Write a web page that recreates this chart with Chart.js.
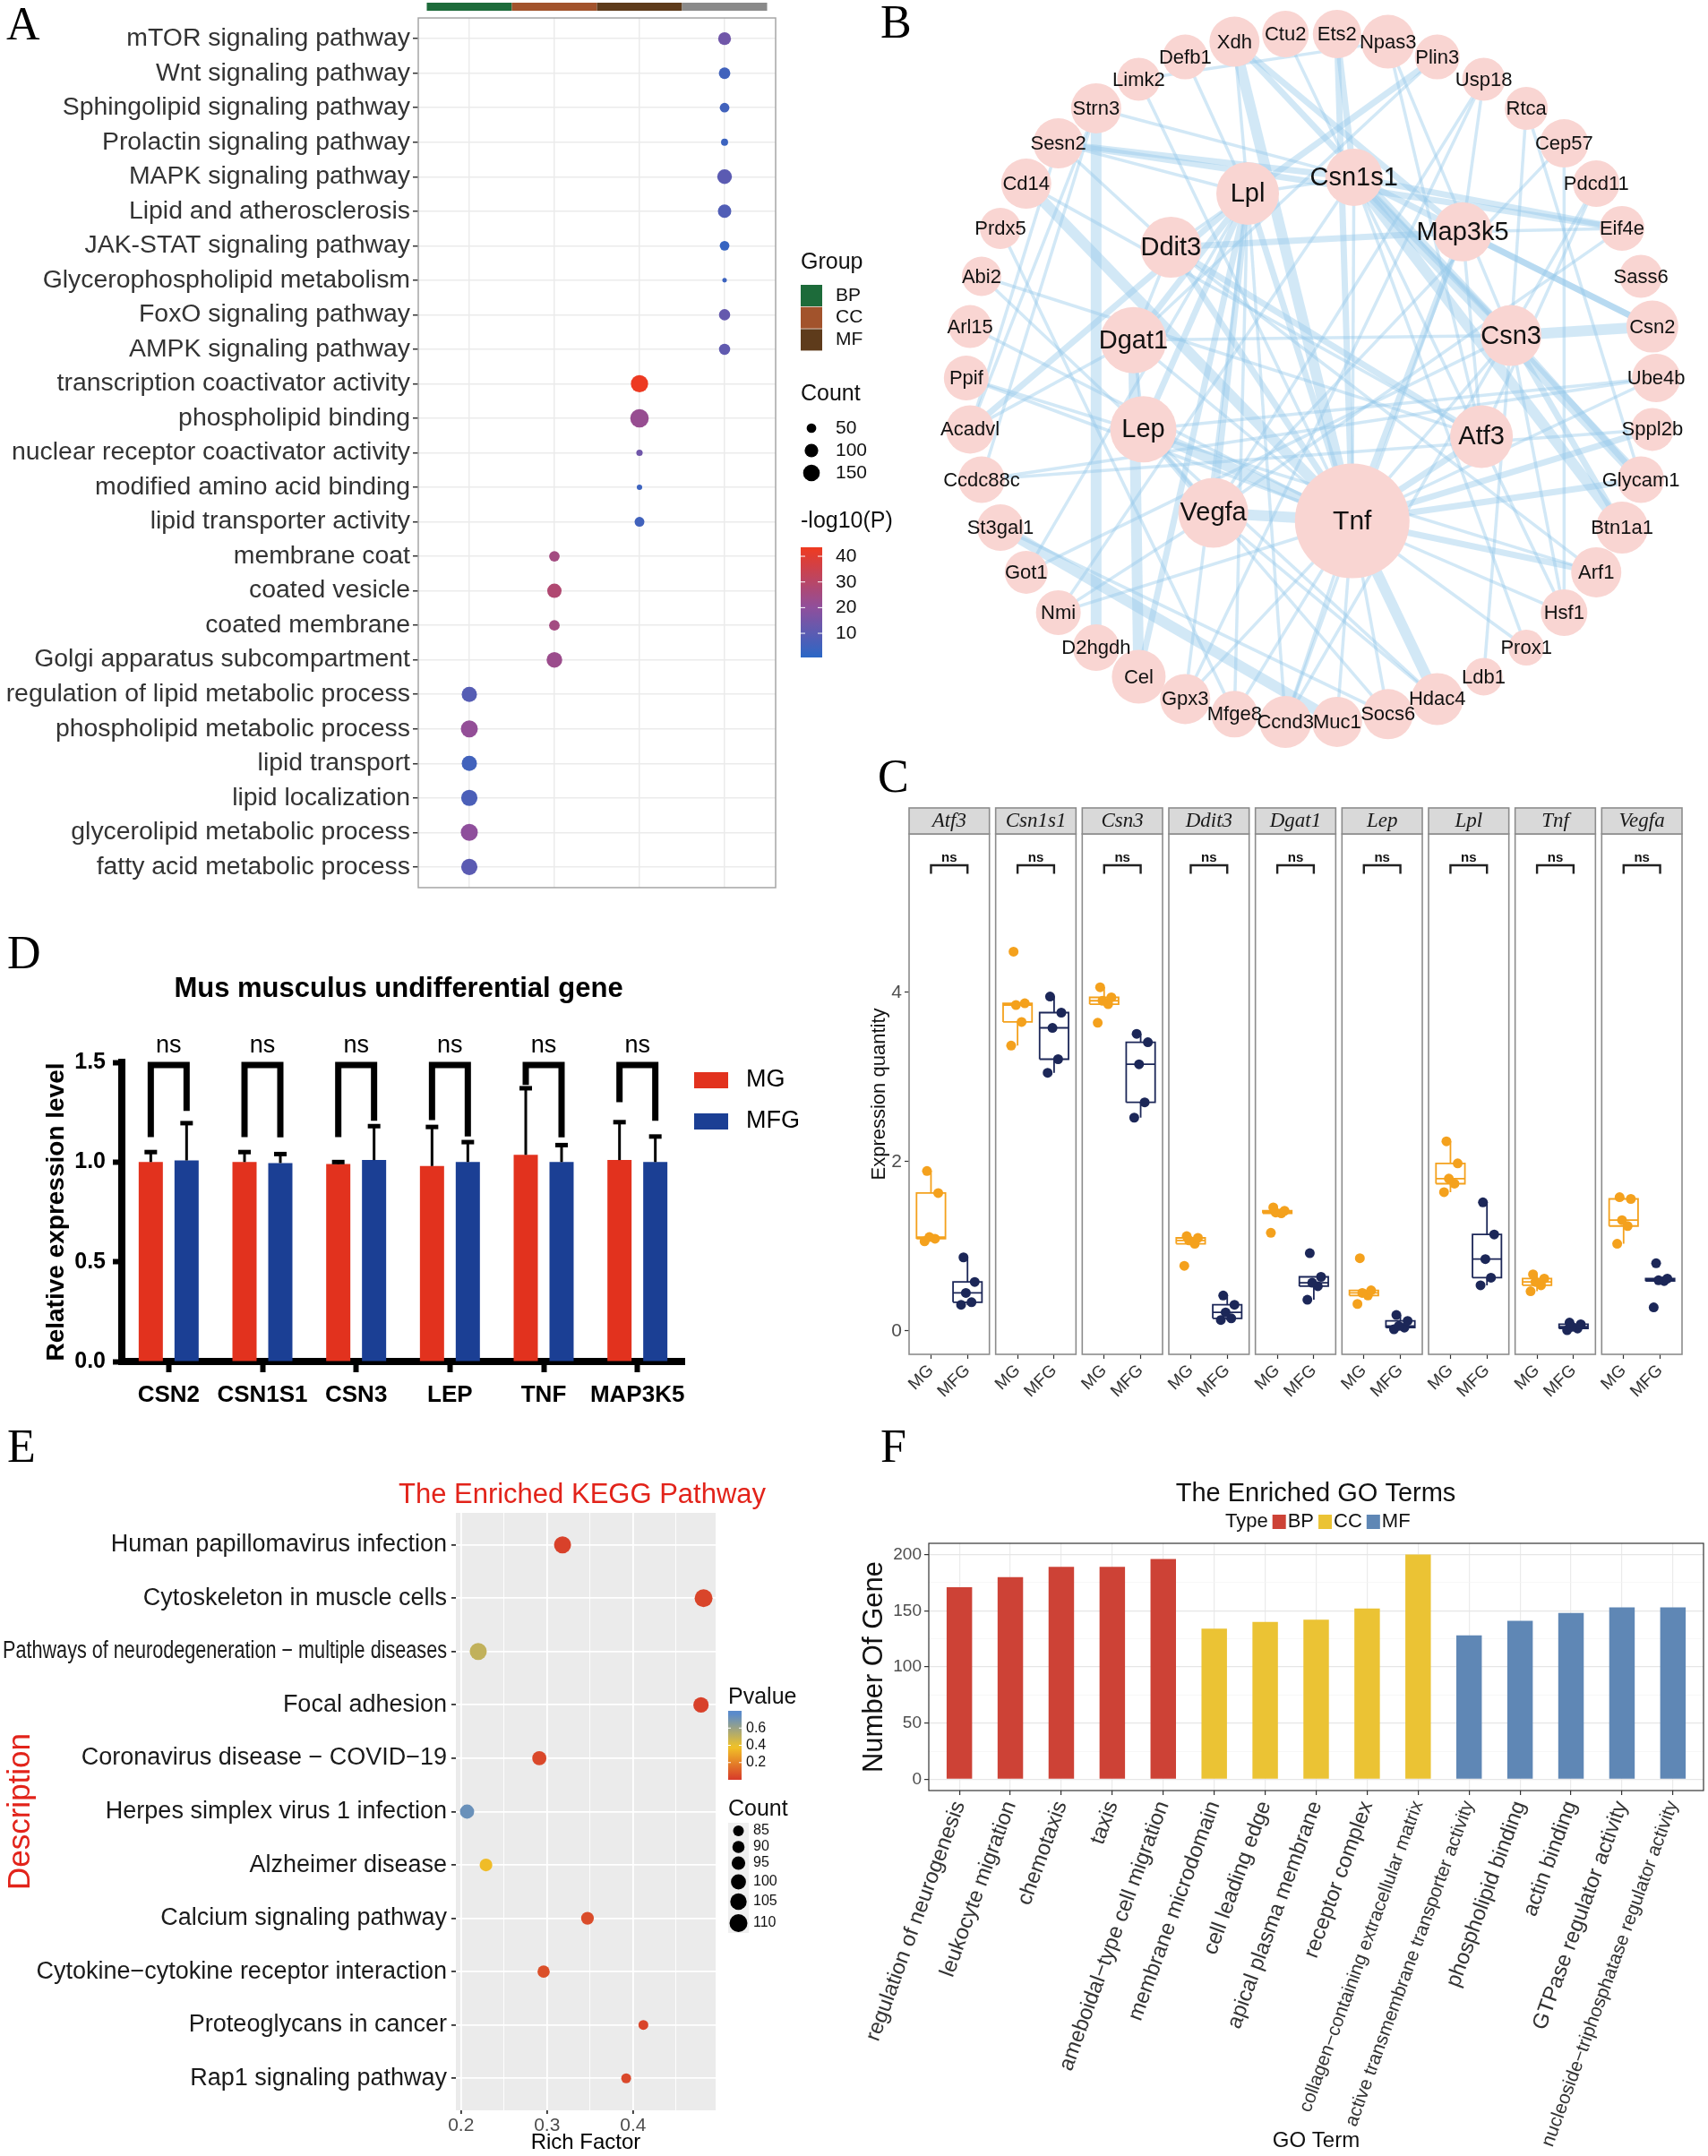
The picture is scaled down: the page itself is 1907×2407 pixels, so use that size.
<!DOCTYPE html>
<html>
<head>
<meta charset="utf-8">
<title>Figure</title>
<script src="https://cdn.jsdelivr.net/npm/chart.js@4.4.1/dist/chart.umd.min.js"></script>
<style>
  html, body { margin: 0; padding: 0; background: #fff; }
  body { position: relative; width: 1907px; height: 2407px; overflow: hidden; }
  canvas { position: absolute; }
  .tag { position: absolute; font: 52px/1 "Liberation Serif", "Times New Roman", serif; color: #000; }
</style>
</head>
<body>
<div class="tag" style="left:7px;top:1px">A</div>
<div class="tag" style="left:983px;top:-1px">B</div>
<div class="tag" style="left:980px;top:841px">C</div>
<div class="tag" style="left:8px;top:1038px">D</div>
<div class="tag" style="left:8px;top:1589px">E</div>
<div class="tag" style="left:983px;top:1589px">F</div>

<canvas id="chartA" width="1000" height="1011" style="left:0;top:0"></canvas>
<canvas id="chartB" width="862" height="854" style="left:1033px;top:0"></canvas>
<canvas id="chartC" width="957" height="700" style="left:950px;top:880px"></canvas>
<canvas id="chartD" width="930" height="540" style="left:0;top:1040px"></canvas>
<canvas id="chartE" width="930" height="817" style="left:0;top:1590px"></canvas>
<canvas id="chartF" width="957" height="817" style="left:950px;top:1590px"></canvas>

<script>
// ---------- data ----------

// A: enrichment of GO / KEGG terms (top to bottom)
const aTerms = ['mTOR signaling pathway', 'Wnt signaling pathway', 'Sphingolipid signaling pathway',
  'Prolactin signaling pathway', 'MAPK signaling pathway', 'Lipid and atherosclerosis',
  'JAK-STAT signaling pathway', 'Glycerophospholipid metabolism', 'FoxO signaling pathway',
  'AMPK signaling pathway', 'transcription coactivator activity', 'phospholipid binding',
  'nuclear receptor coactivator activity', 'modified amino acid binding', 'lipid transporter activity',
  'membrane coat', 'coated vesicle', 'coated membrane', 'Golgi apparatus subcompartment',
  'regulation of lipid metabolic process', 'phospholipid metabolic process', 'lipid transport',
  'lipid localization', 'glycerolipid metabolic process', 'fatty acid metabolic process'];
const aGroup = [4, 4, 4, 4, 4, 4, 4, 4, 4, 4, 3, 3, 3, 3, 3, 2, 2, 2, 2, 1, 1, 1, 1, 1, 1];
const aCount = [88, 72, 50, 27, 116, 97, 50, 11, 68, 68, 161, 185, 22, 16, 52, 60, 111, 60, 133, 125, 156, 125, 143, 156, 143];
const aLogP = [14, 5, 5, 4, 10, 8, 3, 4, 12, 11, 43, 22, 14, 4, 5, 25, 28, 25, 23, 9, 21, 5, 7, 20, 10];
const aGroupNames = ['BP', 'CC', 'MF'];
const aCountBreaks = [50, 100, 150];
const aLogPBreaks = [10, 20, 30, 40];

// B: interaction network
const bHubs = ['Lpl', 'Csn1s1', 'Map3k5', 'Csn3', 'Atf3', 'Tnf', 'Vegfa', 'Lep', 'Dgat1', 'Ddit3'];
const bHubAngle = [251, 282, 316, 348, 19, 74, 126, 163, 192, 223];
const bHubDist = [0.566, 0.595, 0.61, 0.592, 0.522, 0.431, 0.483, 0.509, 0.527, 0.556];
const bHubDegree = [8.5, 7, 7.5, 8, 8.5, 23, 10.5, 9.5, 9.5, 8];
const bRing = ['Ets2', 'Npas3', 'Plin3', 'Usp18', 'Rtca', 'Cep57', 'Pdcd11', 'Eif4e', 'Sass6', 'Csn2',
  'Ube4b', 'Sppl2b', 'Glycam1', 'Btn1a1', 'Arf1', 'Hsf1', 'Prox1', 'Ldb1', 'Hdac4', 'Socs6', 'Muc1',
  'Ccnd3', 'Mfge8', 'Gpx3', 'Cel', 'D2hgdh', 'Nmi', 'Got1', 'St3gal1', 'Ccdc88c', 'Acadvl', 'Ppif',
  'Arl15', 'Abi2', 'Prdx5', 'Cd14', 'Sesn2', 'Strn3', 'Limk2', 'Defb1', 'Xdh', 'Ctu2'];
const bRingDegree = [4.5, 6, 3.5, 3, 3, 4.5, 4, 3.5, 3, 5.5, 4.5, 3, 4, 5.5, 5, 4, 1, 1.5, 5.5, 5, 5,
  5.5, 4, 5, 6, 4, 3.5, 3, 4, 4, 4.5, 3.5, 3, 2, 2.5, 5, 5, 5, 3, 3.5, 5, 4];
const bEdges = [
  ['Tnf','Xdh',3],['Tnf','Cd14',3],['Tnf','Ppif',1],['Tnf','Arl15',1],['Tnf','Lep',3],['Tnf','Vegfa',3],
  ['Tnf','Lpl',2],['Tnf','Ddit3',2],['Tnf','Dgat1',1],['Tnf','Atf3',2],['Tnf','Map3k5',2],['Tnf','Csn3',1],
  ['Tnf','Ube4b',1],['Tnf','Sppl2b',2],['Tnf','Glycam1',2],['Tnf','Arf1',2],['Tnf','Hsf1',1],['Tnf','Hdac4',3],
  ['Tnf','Socs6',1],['Tnf','Muc1',1],['Tnf','Ccnd3',1],['Tnf','Mfge8',1],['Tnf','Gpx3',1],['Tnf','Nmi',1],
  ['Tnf','Prox1',1],['Tnf','Limk2',1],['Tnf','Csn1s1',1],['Tnf','Ets2',2],
  ['Lpl','Plin3',2],['Lpl','Dgat1',2],['Lpl','Lep',2],['Lpl','Vegfa',2],['Lpl','Cel',2],['Lpl','Ddit3',1],
  ['Lpl','Acadvl',2],['Lpl','Sesn2',1],['Lpl','Defb1',1],['Lpl','Gpx3',1],['Lpl','Ccnd3',1],['Lpl','Got1',1],
  ['Lpl','Csn1s1',1],['Lpl','Xdh',1],['Lpl','Mfge8',1],
  ['Csn1s1','Btn1a1',3],['Csn1s1','Glycam1',3],['Csn1s1','Csn2',2],['Csn1s1','Csn3',2],['Csn1s1','Ets2',2],
  ['Csn1s1','Ctu2',1],['Csn1s1','Sesn2',2],['Csn1s1','Eif4e',2],['Csn1s1','Hsf1',1],['Csn1s1','Prox1',1],
  ['Csn1s1','Nmi',1],['Csn1s1','Strn3',1],
  ['Csn3','Csn2',3],['Csn3','Dgat1',1],['Csn3','Btn1a1',2],['Csn3','Glycam1',2],['Csn3','Xdh',2],
  ['Csn3','Npas3',1],['Csn3','Hsf1',1],['Csn3','Ldb1',1],['Csn3','Rtca',1],['Csn3','Got1',1],
  ['Map3k5','Csn2',2],['Map3k5','Ddit3',2],['Map3k5','Xdh',2],['Map3k5','Eif4e',1],['Map3k5','Atf3',1],
  ['Map3k5','Ccnd3',1],['Map3k5','Usp18',1],
  ['Ddit3','Atf3',2],['Ddit3','Arf1',1],['Ddit3','Sesn2',1],['Ddit3','Dgat1',1],
  ['Dgat1','Plin3',1],['Dgat1','Cel',3],['Dgat1','Acadvl',1],['Dgat1','Lep',1],
  ['Lep','Vegfa',2],['Lep','Hdac4',1],['Lep','Socs6',1],['Lep','Ube4b',1],['Lep','Abi2',1],
  ['Vegfa','Hdac4',1],['Vegfa','Usp18',1],['Vegfa','Cep57',1],['Vegfa','Eif4e',1],['Vegfa','Nmi',1],
  ['Atf3','Cd14',1],['Atf3','Pdcd11',1],['Atf3','Abi2',1],['Atf3','Npas3',1],
  ['Strn3','D2hgdh',3],['St3gal1','Muc1',3],['St3gal1','Socs6',1],['Ccdc88c','Sppl2b',1],['Acadvl','Sesn2',1],
  ['Acadvl','Strn3',1],['Ccdc88c','Strn3',1],['Prdx5','Mfge8',1],['Usp18','Gpx3',1],['Rtca','Glycam1',1],
  ['Cep57','Hsf1',1],['Pdcd11','Ccnd3',1],['Limk2','Npas3',1],['Ppif','Arf1',1],['Ccdc88c','Ube4b',1],
  ['Sesn2','Eif4e',2]
];

// C: expression per sample, MG vs MFG
const cGenes = ['Atf3', 'Csn1s1', 'Csn3', 'Ddit3', 'Dgat1', 'Lep', 'Lpl', 'Tnf', 'Vegfa'];
const cMG = [[1.06, 1.09, 1.11, 1.63, 1.89], [3.37, 3.65, 3.85, 3.87, 4.48], [3.64, 3.86, 3.90, 3.94, 4.06],
  [0.77, 1.03, 1.07, 1.10, 1.12], [1.16, 1.39, 1.40, 1.42, 1.46], [0.32, 0.42, 0.45, 0.48, 0.86],
  [1.64, 1.74, 1.80, 1.98, 2.24], [0.47, 0.54, 0.58, 0.62, 0.67], [1.03, 1.24, 1.31, 1.56, 1.58]];
const cMFG = [[0.31, 0.34, 0.45, 0.58, 0.87], [3.05, 3.21, 3.58, 3.76, 3.95], [2.52, 2.70, 3.15, 3.41, 3.51],
  [0.13, 0.15, 0.22, 0.31, 0.42], [0.37, 0.53, 0.57, 0.64, 0.92], [0.02, 0.04, 0.06, 0.12, 0.19],
  [0.54, 0.63, 0.85, 1.14, 1.52], [0.01, 0.03, 0.05, 0.08, 0.10], [0.28, 0.59, 0.60, 0.62, 0.80]];
const cSig = ['ns', 'ns', 'ns', 'ns', 'ns', 'ns', 'ns', 'ns', 'ns'];
const cSigY = 5.5;
const cTicks = [0, 2, 4];

// D: qPCR relative expression
const dGenes = ['CSN2', 'CSN1S1', 'CSN3', 'LEP', 'TNF', 'MAP3K5'];
const dMG = [1.0, 1.0, 0.99, 0.98, 1.036, 1.01];
const dMGsd = [0.05, 0.05, 0.01, 0.196, 0.334, 0.19];
const dMFG = [1.008, 0.995, 1.01, 1.0, 1.0, 1.0];
const dMFGsd = [0.187, 0.045, 0.17, 0.10, 0.085, 0.128];
const dSig = ['ns', 'ns', 'ns', 'ns', 'ns', 'ns'];
const dBracketTop = 1.487;
const dLegLeft = [1.125, 1.125, 1.125, 1.21, 1.387, 1.30];
const dLegRight = [1.256, 1.124, 1.207, 1.128, 1.124, 1.207];
const dTicks = [0, 0.5, 1.0, 1.5];

// E: KEGG pathway enrichment
const eTerms = ['Human papillomavirus infection', 'Cytoskeleton in muscle cells',
  'Pathways of neurodegeneration \u2212 multiple diseases', 'Focal adhesion',
  'Coronavirus disease \u2212 COVID\u221219', 'Herpes simplex virus 1 infection', 'Alzheimer disease',
  'Calcium signaling pathway', 'Cytokine\u2212cytokine receptor interaction', 'Proteoglycans in cancer',
  'Rap1 signaling pathway'];
const eRich = [0.318, 0.482, 0.220, 0.479, 0.291, 0.207, 0.229, 0.347, 0.296, 0.412, 0.392];
const eCount = [107, 110, 107, 101, 97, 97, 92, 92, 90, 82, 82];
const ePval = [0.02, 0.03, 0.50, 0.02, 0.04, 0.72, 0.36, 0.05, 0.06, 0.03, 0.04];
const eTicks = [0.2, 0.25, 0.3, 0.35, 0.4, 0.45];
const ePBreaks = [0.2, 0.4, 0.6];
const eCountBreaks = [85, 90, 95, 100, 105, 110];

// F: GO term gene counts
const fTerms = ['regulation of neurogenesis', 'leukocyte migration', 'chemotaxis', 'taxis',
  'ameboidal\u2212type cell migration', 'membrane microdomain', 'cell leading edge', 'apical plasma membrane',
  'receptor complex', 'collagen\u2212containing extracellular matrix', 'active transmembrane transporter activity',
  'phospholipid binding', 'actin binding', 'GTPase regulator activity', 'nucleoside\u2212triphosphatase regulator activity'];
const fType = ['BP', 'BP', 'BP', 'BP', 'BP', 'CC', 'CC', 'CC', 'CC', 'CC', 'MF', 'MF', 'MF', 'MF', 'MF'];
const fGenes = [171, 180, 189, 189, 196, 134, 140, 142, 152, 200, 128, 141, 148, 153, 153];
const fTypes = ['BP', 'CC', 'MF'];
const fTicks = [0, 25, 50, 75, 100, 125, 150, 175, 200];

// ---------- shared ----------
const SANS = '"Liberation Sans", Arial, Helvetica, sans-serif';
const SERIF = '"Liberation Serif", "Times New Roman", serif';
Chart.defaults.font.family = SANS;
Chart.defaults.color = '#333';

const base = {
  responsive: false,
  animation: false,
  events: [],
  plugins: { legend: { display: false }, tooltip: { enabled: false } }
};

const ticksAt = vals => scale => { scale.ticks = vals.map(v => ({ value: v })); };

function hexToRgb(h) {
  const n = parseInt(h.slice(1), 16);
  return [(n >> 16) & 255, (n >> 8) & 255, n & 255];
}
function ramp(stops, v) {
  if (v <= stops[0][0]) return stops[0][1];
  for (let i = 1; i < stops.length; i++) {
    if (v <= stops[i][0]) {
      const t = (v - stops[i - 1][0]) / (stops[i][0] - stops[i - 1][0]);
      const a = hexToRgb(stops[i - 1][1]), b = hexToRgb(stops[i][1]);
      return 'rgb(' + a.map((c, k) => Math.round(c + (b[k] - c) * t)).join(',') + ')';
    }
  }
  return stops[stops.length - 1][1];
}
function gradientBar(ctx, stops, lo, hi, x, top, w, bot) {
  const g = ctx.createLinearGradient(0, bot, 0, top);
  for (let i = 0; i <= 24; i++) g.addColorStop(i / 24, ramp(stops, lo + (hi - lo) * i / 24));
  ctx.fillStyle = g;
  ctx.fillRect(x, top, w, bot - top);
}

// ---------- A ----------
const aStripColors = ['#1D6B3A', '#A2532C', '#5E3B1B', '#8A8A8A'];
const aRamp = [[0.6, '#2A67C6'], [20, '#8F4F9C'], [43.5, '#EF3A1F']];
const aSize = c => 0.76 * Math.sqrt(c);

new Chart(document.getElementById('chartA'), {
  type: 'scatter',
  data: { datasets: [{
    data: aTerms.map((t, i) => ({ x: aGroup[i], y: i + 1 })),
    pointRadius: aCount.map(aSize),
    pointHoverRadius: aCount.map(aSize),
    pointBackgroundColor: aLogP.map(v => ramp(aRamp, v)),
    pointBorderWidth: 0,
    clip: false
  }] },
  options: {
    ...base,
    layout: { autoPadding: false, padding: { left: 0, top: 15, right: 134, bottom: 0 } },
    scales: {
      x: {
        type: 'linear', min: 0.4, max: 4.6, afterBuildTicks: ticksAt([1, 2, 3, 4]),
        ticks: { display: false },
        grid: { color: '#EBEBEB', lineWidth: 1.5, drawTicks: false },
        border: { display: false },
        afterFit: s => { s.height = 0; }
      },
      y: {
        type: 'linear', reverse: true, min: 0.4, max: 25.6,
        afterBuildTicks: ticksAt(aTerms.map((t, i) => i + 1)),
        ticks: { autoSkip: false, padding: 3, color: '#333', font: { size: 28.4 }, callback: v => aTerms[v - 1] },
        grid: { color: '#EBEBEB', lineWidth: 1.5, tickLength: 6, tickColor: '#333', tickWidth: 1.5 },
        border: { display: false },
        afterFit: s => { s.width = 467; }
      }
    }
  },
  plugins: [{
    id: 'aDecor',
    afterDraw(chart) {
      const { ctx, chartArea: ca, scales: { x } } = chart;
      ctx.save();
      ctx.strokeStyle = '#A6A6A6';
      ctx.lineWidth = 1.5;
      ctx.strokeRect(ca.left, ca.top, ca.right - ca.left, ca.bottom - ca.top);
      aStripColors.forEach((c, k) => {
        const x0 = x.getPixelForValue(k + 0.5), x1 = x.getPixelForValue(k + 1.5);
        ctx.fillStyle = c;
        ctx.fillRect(x0, 3, x1 - x0, 9);
      });
      // legends
      const lx = 894, tx = 933;
      ctx.textAlign = 'left';
      ctx.textBaseline = 'middle';
      ctx.fillStyle = '#111';
      ctx.font = '25px ' + SANS;
      ctx.fillText('Group', lx, 293);
      aGroupNames.forEach((g, k) => {
        ctx.fillStyle = aStripColors[k];
        ctx.fillRect(lx, 318 + k * 24.7, 24, 24);
        ctx.fillStyle = '#111';
        ctx.font = '21px ' + SANS;
        ctx.fillText(g, tx, 330 + k * 24.7);
      });
      ctx.font = '25px ' + SANS;
      ctx.fillText('Count', lx, 440);
      aCountBreaks.forEach((c, k) => {
        ctx.fillStyle = '#000';
        ctx.beginPath();
        ctx.arc(906, 478 + k * 25, aSize(c), 0, Math.PI * 2);
        ctx.fill();
        ctx.fillStyle = '#111';
        ctx.font = '21px ' + SANS;
        ctx.fillText(String(c), tx, 478 + k * 25);
      });
      ctx.font = '25px ' + SANS;
      ctx.fillText('-log10(P)', lx, 582);
      const top = 611, bot = 734, lo = 0.6, hi = 43.5;
      gradientBar(ctx, aRamp, lo, hi, lx, top, 24, bot);
      ctx.strokeStyle = '#fff';
      ctx.lineWidth = 1;
      aLogPBreaks.forEach(v => {
        const yy = bot - (v - lo) / (hi - lo) * (bot - top);
        ctx.beginPath();
        ctx.moveTo(lx, yy); ctx.lineTo(lx + 5, yy);
        ctx.moveTo(lx + 19, yy); ctx.lineTo(lx + 24, yy);
        ctx.stroke();
        ctx.fillStyle = '#111';
        ctx.font = '21px ' + SANS;
        ctx.fillText(String(v), tx, yy);
      });
      ctx.restore();
    }
  }]
});

// ---------- B ----------
const bNames = bHubs.concat(bRing);
const bDegree = bHubDegree.concat(bRingDegree);
const bXY = bNames.map((n, i) => {
  const hub = i < bHubs.length;
  const deg = hub ? bHubAngle[i] : -90 + (i - bHubs.length + 0.5) * 360 / bRing.length;
  const r = hub ? bHubDist[i] : 1;
  const a = deg * Math.PI / 180;
  return { x: r * Math.cos(a), y: -r * Math.sin(a) };
});
const bIndex = Object.fromEntries(bNames.map((n, i) => [n, i]));
const bEdgeWidth = [0, 3.5, 7, 12];

new Chart(document.getElementById('chartB'), {
  type: 'scatter',
  data: { datasets: [
    {
      data: bXY.map(p => ({ ...p })),
      pointRadius: bDegree.map(d => 18 + 2 * d),
      pointHoverRadius: bDegree.map(d => 18 + 2 * d),
      pointBackgroundColor: '#F9D5D2',
      pointBorderWidth: 0,
      order: 0,
      clip: false
    },
    ...bEdges.map(([a, b, w]) => ({
      data: [{ ...bXY[bIndex[a]] }, { ...bXY[bIndex[b]] }],
      showLine: true,
      pointRadius: 0,
      borderColor: 'rgba(148,200,234,0.42)',
      borderWidth: bEdgeWidth[w],
      order: 1,
      clip: false
    }))
  ] },
  options: {
    ...base,
    layout: { autoPadding: false, padding: 0 },
    scales: {
      x: { type: 'linear', min: -1.119, max: 1.119, display: false },
      y: { type: 'linear', min: -1.122, max: 1.096, display: false }
    }
  },
  plugins: [{
    id: 'bLabels',
    afterDatasetsDraw(chart) {
      const { ctx, scales: { x, y } } = chart;
      ctx.save();
      ctx.textAlign = 'center';
      ctx.textBaseline = 'middle';
      ctx.fillStyle = '#111';
      bNames.forEach((n, i) => {
        const size = n === 'Tnf' ? 30 : (i < bHubs.length ? 29 : 22);
        ctx.font = size + 'px ' + SANS;
        ctx.fillText(n, x.getPixelForValue(bXY[i].x), y.getPixelForValue(bXY[i].y) + 1);
      });
      ctx.restore();
    }
  }]
});

// ---------- C ----------
const cStep = 1 + 7 / 90;
const cX = (g, j) => g * cStep + (0.6 + j) / 2.2;
const cJitter = [-0.08, 0.05, -0.02, 0.09, -0.05];
const cHalf = 0.18;
const cOrange = '#F4A11D', cNavy = '#1C2758';
const GAP = { x: NaN, y: NaN };

function quant(s, p) {
  const h = (s.length - 1) * p, lo = Math.floor(h), hi = Math.min(lo + 1, s.length - 1);
  return s[lo] + (s[hi] - s[lo]) * (h - lo);
}
function boxPath(vals, cx) {
  const s = [...vals].sort((a, b) => a - b);
  const q1 = quant(s, 0.25), med = quant(s, 0.5), q3 = quant(s, 0.75), iqr = q3 - q1;
  const hi = Math.max(...s.filter(v => v <= q3 + 1.5 * iqr));
  const lo = Math.min(...s.filter(v => v >= q1 - 1.5 * iqr));
  const L = cx - cHalf, R = cx + cHalf;
  return [{ x: L, y: q1 }, { x: R, y: q1 }, { x: R, y: q3 }, { x: L, y: q3 }, { x: L, y: q1 }, { ...GAP },
    { x: L, y: med }, { x: R, y: med }, { ...GAP },
    { x: cx, y: q3 }, { x: cx, y: Math.max(hi, q3) }, { ...GAP },
    { x: cx, y: q1 }, { x: cx, y: Math.min(lo, q1) }, { ...GAP }];
}
const cPoints = (groups, j) => groups.flatMap((pts, g) => pts.map((v, k) => ({ x: cX(g, j) + cJitter[k], y: v })));

new Chart(document.getElementById('chartC'), {
  type: 'scatter',
  data: { datasets: [
    { data: cPoints(cMG, 0), pointRadius: 5.5, pointHoverRadius: 5.5, pointBackgroundColor: cOrange, pointBorderWidth: 0, order: 0 },
    { data: cPoints(cMFG, 1), pointRadius: 5.5, pointHoverRadius: 5.5, pointBackgroundColor: cNavy, pointBorderWidth: 0, order: 1 },
    { data: cMG.flatMap((pts, g) => boxPath(pts, cX(g, 0))), showLine: true, pointRadius: 0, borderColor: cOrange, borderWidth: 1.8, order: 2 },
    { data: cMFG.flatMap((pts, g) => boxPath(pts, cX(g, 1))), showLine: true, pointRadius: 0, borderColor: cNavy, borderWidth: 1.8, order: 3 },
    {
      data: cGenes.flatMap((g, i) => [{ x: cX(i, 0), y: cSigY - 0.1 }, { x: cX(i, 0), y: cSigY },
        { x: cX(i, 1), y: cSigY }, { x: cX(i, 1), y: cSigY - 0.1 }, { ...GAP }]),
      showLine: true, pointRadius: 0, borderColor: '#222', borderWidth: 2.4, order: 4
    }
  ] },
  options: {
    ...base,
    layout: { autoPadding: false, padding: { left: 0, top: 51, right: 29, bottom: 0 } },
    scales: {
      x: {
        type: 'linear', min: 0, max: 8 * cStep + 1,
        afterBuildTicks: ticksAt(cGenes.flatMap((g, i) => [cX(i, 0), cX(i, 1)])),
        ticks: { autoSkip: false, minRotation: 45, maxRotation: 45, padding: 2, color: '#333', font: { size: 19 },
          callback: (v, i) => (i % 2 ? 'MFG' : 'MG') },
        grid: { drawOnChartArea: false, tickLength: 5, tickColor: '#333', tickWidth: 1.2 },
        border: { display: false },
        afterFit: s => { s.height = 68; }
      },
      y: {
        type: 'linear', min: -0.275, max: 5.87, afterBuildTicks: ticksAt(cTicks),
        ticks: { color: '#4D4D4D', font: { size: 21 }, padding: 3 },
        grid: { drawOnChartArea: false, tickLength: 5, tickColor: '#333', tickWidth: 1.2 },
        border: { display: false },
        title: { display: true, text: 'Expression quantity', color: '#111', font: { size: 22 }, padding: { top: 19, bottom: 0 } },
        afterFit: s => { s.width = 65; }
      }
    }
  },
  plugins: [{
    id: 'cFacets',
    beforeDatasetsDraw(chart) {
      const { ctx, chartArea: ca, scales: { x } } = chart;
      ctx.save();
      cGenes.forEach((g, i) => {
        const x0 = x.getPixelForValue(i * cStep), x1 = x.getPixelForValue(i * cStep + 1);
        ctx.strokeStyle = '#8C8C8C';
        ctx.lineWidth = 1.6;
        ctx.strokeRect(x0, ca.top, x1 - x0, ca.bottom - ca.top);
        ctx.fillStyle = '#D9D9D9';
        ctx.fillRect(x0, ca.top - 29, x1 - x0, 29);
        ctx.strokeRect(x0, ca.top - 29, x1 - x0, 29);
        ctx.fillStyle = '#1A1A1A';
        ctx.font = 'italic 23px ' + SERIF;
        ctx.textAlign = 'center';
        ctx.textBaseline = 'middle';
        ctx.fillText(g, (x0 + x1) / 2, ca.top - 14);
      });
      ctx.restore();
    },
    afterDatasetsDraw(chart) {
      const { ctx, scales: { x, y } } = chart;
      ctx.save();
      ctx.fillStyle = '#111';
      ctx.font = 'bold 15px ' + SANS;
      ctx.textAlign = 'center';
      ctx.textBaseline = 'alphabetic';
      cSig.forEach((s, i) => {
        const cx = (x.getPixelForValue(cX(i, 0)) + x.getPixelForValue(cX(i, 1))) / 2;
        ctx.fillText(s, cx, y.getPixelForValue(cSigY) - 4);
      });
      ctx.restore();
    }
  }]
});

// ---------- D ----------
const dRed = '#E2321E', dBlue = '#1B3F94';

new Chart(document.getElementById('chartD'), {
  type: 'bar',
  data: {
    labels: dGenes,
    datasets: [
      { label: 'MG', data: dMG, backgroundColor: dRed, borderWidth: 0, categoryPercentage: 0.764, barPercentage: 0.675 },
      { label: 'MFG', data: dMFG, backgroundColor: dBlue, borderWidth: 0, categoryPercentage: 0.764, barPercentage: 0.675 }
    ]
  },
  options: {
    ...base,
    layout: { autoPadding: false, padding: { left: 0, top: 146, right: 166, bottom: 0 } },
    scales: {
      x: {
        grid: { drawOnChartArea: false, offset: false, tickLength: 12, tickWidth: 6, tickColor: '#000' },
        border: { display: true, color: '#000', width: 8 },
        ticks: { autoSkip: false, minRotation: 0, maxRotation: 0, color: '#000', padding: 10, font: { size: 26, weight: 'bold' } },
        afterFit: s => { s.height = 60; }
      },
      y: {
        min: 0, max: 1.5, afterBuildTicks: ticksAt(dTicks),
        ticks: { color: '#000', padding: 8, font: { size: 25, weight: 'bold' }, callback: v => v.toFixed(1) },
        grid: { drawOnChartArea: false, tickLength: 10, tickWidth: 6, tickColor: '#000' },
        border: { display: true, color: '#000', width: 8 },
        title: { display: true, text: 'Relative expression level', color: '#000', font: { size: 28, weight: 'bold' }, padding: { top: 46, bottom: 0 } },
        afterFit: s => { s.width = 136; }
      }
    }
  },
  plugins: [{
    id: 'dDecor',
    afterDatasetsDraw(chart) {
      const { ctx, scales: { y } } = chart;
      const sds = [dMGsd, dMFGsd];
      ctx.save();
      ctx.strokeStyle = '#000';
      chart.data.datasets.forEach((ds, di) => {
        chart.getDatasetMeta(di).data.forEach((bar, i) => {
          const yTop = y.getPixelForValue(ds.data[i] + sds[di][i]);
          ctx.lineWidth = 3;
          ctx.beginPath(); ctx.moveTo(bar.x, bar.y); ctx.lineTo(bar.x, yTop); ctx.stroke();
          ctx.lineWidth = 5;
          ctx.beginPath(); ctx.moveTo(bar.x - 7, yTop); ctx.lineTo(bar.x + 7, yTop); ctx.stroke();
        });
      });
      // significance brackets
      const mg = chart.getDatasetMeta(0).data, mfg = chart.getDatasetMeta(1).data;
      const yt = y.getPixelForValue(dBracketTop);
      ctx.lineWidth = 7;
      ctx.lineJoin = 'miter';
      ctx.fillStyle = '#000';
      ctx.font = '27px ' + SANS;
      ctx.textAlign = 'center';
      ctx.textBaseline = 'middle';
      dGenes.forEach((g, i) => {
        const xl = mg[i].x, xr = mfg[i].x;
        ctx.beginPath();
        ctx.moveTo(xl, y.getPixelForValue(dLegLeft[i]));
        ctx.lineTo(xl, yt);
        ctx.lineTo(xr, yt);
        ctx.lineTo(xr, y.getPixelForValue(dLegRight[i]));
        ctx.stroke();
        ctx.fillText(dSig[i], (xl + xr) / 2, yt - 21);
      });
      // title + legend
      ctx.font = 'bold 31px ' + SANS;
      ctx.fillText('Mus musculus undifferential gene', 445, 64);
      [['MG', dRed, 166], ['MFG', dBlue, 212]].forEach(([t, c, yy]) => {
        ctx.fillStyle = c;
        ctx.fillRect(775, yy - 9, 38, 18);
        ctx.fillStyle = '#000';
        ctx.font = '27px ' + SANS;
        ctx.textAlign = 'left';
        ctx.fillText(t, 833, yy);
      });
      ctx.restore();
    }
  }]
});

// ---------- E ----------
const eRamp = [[0, '#D73A2A'], [0.38, '#F1C327'], [0.76, '#5A8BCB']];
const eSize = c => 6 + (c - 85) * 0.16;
const eMajor = v => Math.abs(v * 10 - Math.round(v * 10)) < 1e-6;

new Chart(document.getElementById('chartE'), {
  type: 'scatter',
  data: { datasets: [{
    data: eTerms.map((t, i) => ({ x: eRich[i], y: i + 1 })),
    pointRadius: eCount.map(eSize),
    pointHoverRadius: eCount.map(eSize),
    pointBackgroundColor: ePval.map(p => ramp(eRamp, p)),
    pointBorderWidth: 0,
    clip: false
  }] },
  options: {
    ...base,
    layout: { autoPadding: false, padding: { left: 0, top: 99, right: 131, bottom: 0 } },
    scales: {
      x: {
        type: 'linear', min: 0.194, max: 0.496, afterBuildTicks: ticksAt(eTicks),
        ticks: { autoSkip: false, color: '#4D4D4D', font: { size: 21 }, padding: 1, callback: v => (eMajor(v) ? v.toFixed(1) : '') },
        grid: {
          color: '#FFFFFF',
          lineWidth: c => (c.tick && eMajor(c.tick.value) ? 1.8 : 0.9),
          tickLength: 4,
          tickColor: c => (c.tick && eMajor(c.tick.value) ? '#333' : 'rgba(0,0,0,0)')
        },
        border: { display: false },
        title: { display: true, text: 'Rich Factor', color: '#000', font: { size: 24 }, padding: { top: 0, bottom: 0 } },
        afterFit: s => { s.height = 51; }
      },
      y: {
        type: 'linear', reverse: true, min: 0.4, max: 11.6, afterBuildTicks: ticksAt(eTerms.map((t, i) => i + 1)),
        ticks: { display: false },
        grid: { color: '#FFFFFF', lineWidth: 1.8, tickLength: 5, tickColor: '#333' },
        border: { display: false },
        title: { display: true, text: 'Description', color: '#E2231A', font: { size: 35 }, padding: { top: 2, bottom: 0 } },
        afterFit: s => { s.width = 509; }
      }
    }
  },
  plugins: [{
    id: 'eDecor',
    beforeDraw(chart) {
      const { ctx, chartArea: ca } = chart;
      ctx.save();
      ctx.fillStyle = '#EBEBEB';
      ctx.fillRect(ca.left, ca.top, ca.right - ca.left, ca.bottom - ca.top);
      ctx.restore();
    },
    afterDraw(chart) {
      const { ctx, scales: { y } } = chart;
      ctx.save();
      ctx.textBaseline = 'middle';
      ctx.textAlign = 'right';
      ctx.fillStyle = '#1A1A1A';
      ctx.font = '27px ' + SANS;
      eTerms.forEach((t, i) => ctx.fillText(t, 499, y.getPixelForValue(i + 1), 496));
      ctx.textAlign = 'center';
      ctx.fillStyle = '#E2231A';
      ctx.font = '31px ' + SANS;
      ctx.fillText('The Enriched KEGG Pathway', 650, 79);
      // legends
      const lx = 813;
      ctx.textAlign = 'left';
      ctx.fillStyle = '#111';
      ctx.font = '25px ' + SANS;
      ctx.fillText('Pvalue', lx, 305);
      const top = 320, bot = 397;
      gradientBar(ctx, eRamp, 0, 0.8, lx, top, 15, bot);
      ctx.strokeStyle = '#fff';
      ctx.lineWidth = 1;
      ePBreaks.forEach(v => {
        const yy = bot - v / 0.8 * (bot - top);
        ctx.beginPath();
        ctx.moveTo(lx, yy); ctx.lineTo(lx + 3, yy);
        ctx.moveTo(lx + 12, yy); ctx.lineTo(lx + 15, yy);
        ctx.stroke();
        ctx.fillStyle = '#111';
        ctx.font = '16px ' + SANS;
        ctx.fillText(v.toFixed(1), 833, yy);
      });
      ctx.font = '25px ' + SANS;
      ctx.fillText('Count', lx, 430);
      ctx.fillStyle = '#EFEFEF';
      ctx.fillRect(lx, 445, 23, 123);
      const ky = [454, 472, 490, 511, 533, 557];
      eCountBreaks.forEach((c, k) => {
        ctx.fillStyle = '#000';
        ctx.beginPath();
        ctx.arc(lx + 11.5, ky[k], eSize(c), 0, Math.PI * 2);
        ctx.fill();
        ctx.fillStyle = '#111';
        ctx.font = '16px ' + SANS;
        ctx.fillText(String(c), 841, ky[k]);
      });
      ctx.restore();
    }
  }]
});

// ---------- F ----------
const fColors = { BP: '#CD4236', CC: '#EBC334', MF: '#5F87B5' };
const fMajor = v => v % 50 === 0;

new Chart(document.getElementById('chartF'), {
  type: 'bar',
  data: { datasets: [{
    data: fGenes.map((v, i) => ({ x: i + 1, y: v })),
    backgroundColor: fType.map(t => fColors[t]),
    borderWidth: 0,
    categoryPercentage: 0.5,
    barPercentage: 1
  }] },
  options: {
    ...base,
    layout: { autoPadding: false, padding: { left: 0, top: 133, right: 5, bottom: 0 } },
    scales: {
      x: {
        type: 'linear', offset: false, min: 0.4, max: 15.6, afterBuildTicks: ticksAt(fTerms.map((t, i) => i + 1)),
        ticks: {
          autoSkip: false, minRotation: 70, maxRotation: 70, color: '#333', padding: 3,
          font: c => ({ size: (fTerms[c.index] || '').length > 36 ? 21 : 24 }),
          callback: v => fTerms[v - 1]
        },
        grid: { offset: false, color: '#EBEBEB', lineWidth: 1.2, tickLength: 5, tickColor: '#333' },
        border: { display: false },
        title: { display: true, text: 'GO Term', color: '#111', font: { size: 24 }, padding: { top: 0, bottom: 2 } },
        afterFit: s => { s.height = 408; }
      },
      y: {
        type: 'linear', min: -10, max: 210, afterBuildTicks: ticksAt(fTicks),
        ticks: { color: '#4D4D4D', font: { size: 19 }, padding: 3, callback: v => (fMajor(v) ? String(v) : '') },
        grid: {
          color: c => (c.tick && fMajor(c.tick.value) ? '#E6E6E6' : '#F3F3F3'),
          lineWidth: c => (c.tick && fMajor(c.tick.value) ? 1.2 : 0.7),
          tickLength: 5,
          tickColor: c => (c.tick && fMajor(c.tick.value) ? '#333' : 'rgba(0,0,0,0)')
        },
        border: { display: false },
        title: { display: true, text: 'Number Of Gene', color: '#111', font: { size: 31 }, padding: { top: 8, bottom: 0 } },
        afterFit: s => { s.width = 87; }
      }
    }
  },
  plugins: [{
    id: 'fDecor',
    afterDraw(chart) {
      const { ctx, chartArea: ca } = chart;
      ctx.save();
      ctx.strokeStyle = '#333';
      ctx.lineWidth = 1.2;
      ctx.strokeRect(ca.left, ca.top, ca.right - ca.left, ca.bottom - ca.top);
      ctx.fillStyle = '#111';
      ctx.textAlign = 'center';
      ctx.textBaseline = 'middle';
      ctx.font = '29px ' + SANS;
      ctx.fillText('The Enriched GO Terms', 519, 78);
      ctx.textAlign = 'left';
      ctx.font = '22px ' + SANS;
      let x = 418;
      ctx.fillText('Type', x, 109);
      x += ctx.measureText('Type').width + 5;
      fTypes.forEach(t => {
        ctx.fillStyle = fColors[t];
        ctx.fillRect(x, 101, 15, 16);
        x += 17;
        ctx.fillStyle = '#111';
        ctx.fillText(t, x, 109);
        x += ctx.measureText(t).width + 5;
      });
      ctx.restore();
    }
  }]
});
</script>
</body>
</html>
